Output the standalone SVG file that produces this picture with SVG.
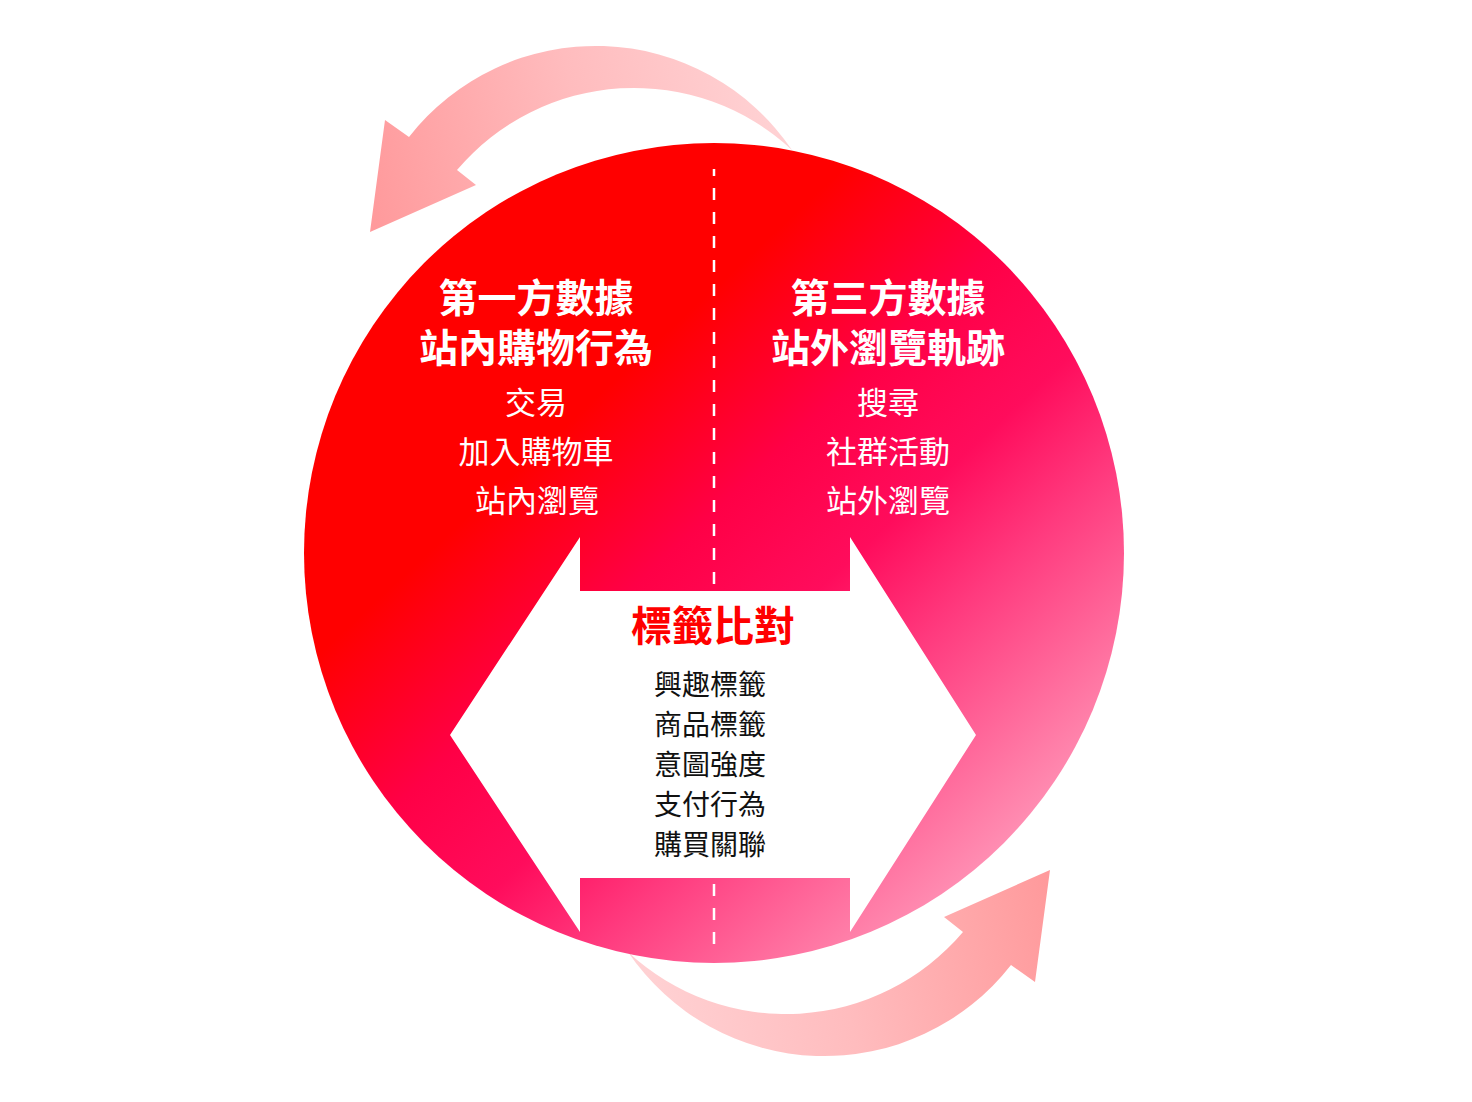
<svg xmlns="http://www.w3.org/2000/svg" width="1472" height="1102" viewBox="0 0 1472 1102">
  <defs>
    <linearGradient id="circleGrad" gradientUnits="userSpaceOnUse" x1="470" y1="290" x2="1090" y2="960">
      <stop offset="0" stop-color="#ff0000"/>
      <stop offset="0.18" stop-color="#ff0000"/>
      <stop offset="0.36" stop-color="#ff0046"/>
      <stop offset="0.5" stop-color="#ff0c5c"/>
      <stop offset="0.62" stop-color="#ff3a7e"/>
      <stop offset="0.8" stop-color="#ff7ea8"/>
      <stop offset="1" stop-color="#ffc6d8"/>
    </linearGradient>
    <linearGradient id="arrowGrad" gradientUnits="userSpaceOnUse" x1="370" y1="200" x2="800" y2="110">
      <stop offset="0" stop-color="#ff9a9c"/>
      <stop offset="0.5" stop-color="#ffbcbe"/>
      <stop offset="1" stop-color="#ffd4d6"/>
    </linearGradient>
    <style>
      .head { font-family: "Noto Sans CJK TC", "Noto Sans CJK SC", sans-serif; font-weight: bold; font-size: 39px; fill: #ffffff; text-anchor: middle; }
      .sub { font-family: "Noto Sans CJK TC", "Noto Sans CJK SC", sans-serif; font-size: 31px; fill: #ffffff; text-anchor: middle; }
      .title { font-family: "Noto Sans CJK TC", "Noto Sans CJK SC", sans-serif; font-weight: bold; font-size: 41px; fill: #ff0000; text-anchor: middle; }
      .item { font-family: "Noto Sans CJK TC", "Noto Sans CJK SC", sans-serif; font-size: 28px; fill: #111111; text-anchor: middle; }
    </style>
  </defs>

  <g id="connectors">
    <path id="arrow-top" fill="url(#arrowGrad)" d="M792,150 A237,237 0 0 0 409,137 L385,120 L370,232 L476,185 L457,170 A232,232 0 0 1 792,150 Z"/>
    <path id="arrow-bottom" fill="url(#arrowGrad)" transform="rotate(180 710 551)" d="M792,150 A237,237 0 0 0 409,137 L385,120 L370,232 L476,185 L457,170 A232,232 0 0 1 792,150 Z"/>
  </g>

  <g id="circle">
    <circle cx="714" cy="553" r="410" fill="url(#circleGrad)"/>
    <line x1="714" y1="169" x2="714" y2="952" stroke="#ffffff" stroke-width="2.5" stroke-dasharray="12 12" stroke-dashoffset="5"/>
  </g>

  <g id="first-party">
    <text class="head" x="536" y="312">第一方數據</text>
    <text class="head" x="536" y="362">站內購物行為</text>
    <text class="sub" x="536" y="414">交易</text>
    <text class="sub" x="536" y="463">加入購物車</text>
    <text class="sub" x="537" y="512">站內瀏覽</text>
  </g>

  <g id="third-party">
    <text class="head" x="888" y="312">第三方數據</text>
    <text class="head" x="888" y="362">站外瀏覽軌跡</text>
    <text class="sub" x="888" y="414">搜尋</text>
    <text class="sub" x="888" y="463">社群活動</text>
    <text class="sub" x="888" y="512">站外瀏覽</text>
  </g>

  <g id="tag-matching">
    <path fill="#ffffff" d="M580,537 L580,591 L850,591 L850,537 L976,735 L850,932 L850,878 L580,878 L580,932 L450,735 Z"/>
    <text class="title" x="713" y="641">標籤比對</text>
    <text class="item" x="710" y="695">興趣標籤</text>
    <text class="item" x="710" y="735">商品標籤</text>
    <text class="item" x="710" y="775">意圖強度</text>
    <text class="item" x="710" y="815">支付行為</text>
    <text class="item" x="710" y="855">購買關聯</text>
  </g>
</svg>
